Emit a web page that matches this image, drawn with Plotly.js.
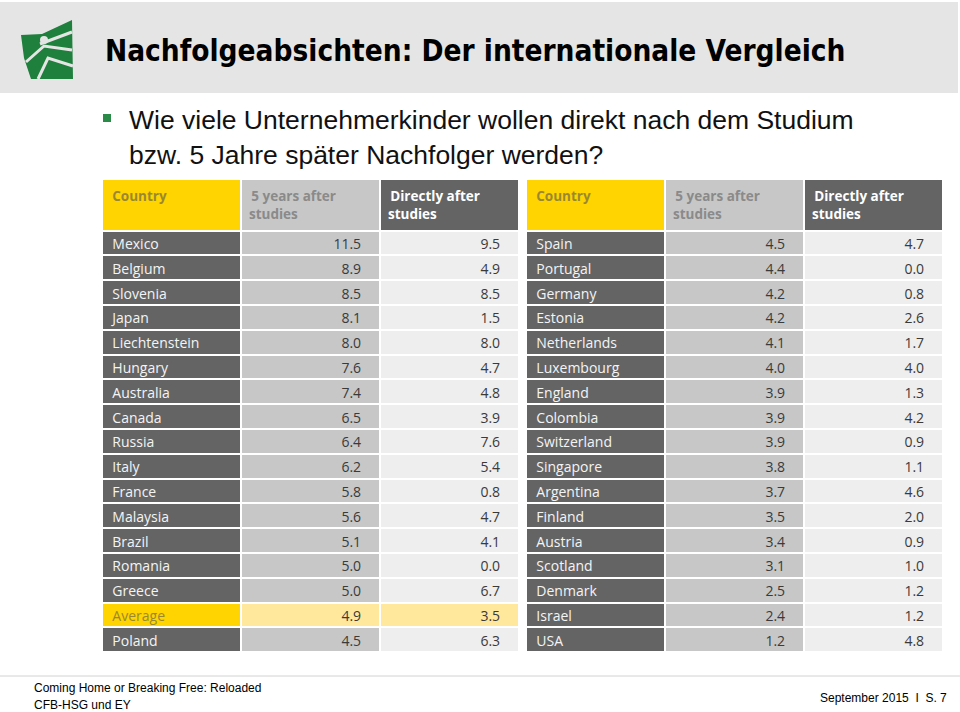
<!DOCTYPE html>
<html>
<head>
<meta charset="utf-8">
<script src="https://cdn.plot.ly/plotly-3.0.1.min.js"></script>
<style>html,body{margin:0;padding:0;background:#fff;}#chart{width:960px;height:712px;}</style>
</head>
<body>
<div id="chart"></div>
<script>
// ---- data ----
const headerLabels = ['Country', '5 years after<br>studies', 'Directly after<br>studies'];

const leftCountries = ['Mexico','Belgium','Slovenia','Japan','Liechtenstein','Hungary','Australia','Canada','Russia','Italy','France','Malaysia','Brazil','Romania','Greece','Average','Poland'];
const leftFiveYears = [11.5, 8.9, 8.5, 8.1, 8.0, 7.6, 7.4, 6.5, 6.4, 6.2, 5.8, 5.6, 5.1, 5.0, 5.0, 4.9, 4.5];
const leftDirectly  = [9.5, 4.9, 8.5, 1.5, 8.0, 4.7, 4.8, 3.9, 7.6, 5.4, 0.8, 4.7, 4.1, 0.0, 6.7, 3.5, 6.3];

const rightCountries = ['Spain','Portugal','Germany','Estonia','Netherlands','Luxembourg','England','Colombia','Switzerland','Singapore','Argentina','Finland','Austria','Scotland','Denmark','Israel','USA'];
const rightFiveYears = [4.5, 4.4, 4.2, 4.2, 4.1, 4.0, 3.9, 3.9, 3.9, 3.8, 3.7, 3.5, 3.4, 3.1, 2.5, 2.4, 1.2];
const rightDirectly  = [4.7, 0.0, 0.8, 2.6, 1.7, 4.0, 1.3, 4.2, 0.9, 1.1, 4.6, 2.0, 0.9, 1.0, 1.2, 1.2, 4.8];

const highlightLabel = 'Average';

// ---- helpers ----
const W = 960, H = 712;
const px = x => x / W;
const py = y => 1 - y / H;

const C = {
  yellow: '#ffd400', yellowLight: '#ffe89c', yellowText: '#9a8830',
  dark: '#646464', mid: '#c7c7c7', light: '#eeeeee',
  midText: '#8a8a8a', valText: '#3a3a3a'
};

function makeTable(countries, five, direct, x0, x1) {
  const isH = countries.map(c => c === highlightLabel);
  return {
    type: 'table',
    domain: {x: [px(x0), px(x1)], y: [py(654), py(179)]},
    columnwidth: [1, 1, 1],
    header: {
      values: headerLabels.map(h => '<b>' + h + '</b>'),
      align: 'left',
      height: 48,
      prefix: '\u2009',
      fill: {color: [C.yellow, C.mid, C.dark]},
      font: {family: 'Open Sans', size: 13.5, color: [C.yellowText, C.midText, '#ffffff']},
      line: {color: '#ffffff', width: 2}
    },
    cells: {
      values: [countries, five, direct],
      format: ['', '.1f', '.1f'],
      prefix: ['\u2009', '', ''],
      suffix: ['', '\u00a0\u00a0\u00a0', '\u00a0\u00a0\u00a0'],
      align: ['left', 'right', 'right'],
      height: 24.8,
      fill: {color: [
        isH.map(h => h ? C.yellow : C.dark),
        isH.map(h => h ? C.yellowLight : C.mid),
        isH.map(h => h ? C.yellowLight : C.light)
      ]},
      font: {family: 'Open Sans', size: 14, color: [
        isH.map(h => h ? C.yellowText : '#f4f4f4'),
        isH.map(h => C.valText),
        isH.map(h => C.valText)
      ]},
      line: {color: '#ffffff', width: 2}
    }
  };
}

const data = [
  makeTable(leftCountries, leftFiveYears, leftDirectly, 102, 520),
  makeTable(rightCountries, rightFiveYears, rightDirectly, 526, 944)
];

const green = '#1f7f3c';
const shapes = [
  // header band
  {type: 'rect', xref: 'paper', yref: 'paper', x0: px(0), x1: px(958), y0: py(93), y1: py(2), fillcolor: '#e5e5e5', line: {width: 0}, layer: 'below'},
  // logo
  {type: 'path', xref: 'paper', yref: 'paper', fillcolor: green, line: {width: 0},
   path: 'M' + px(21) + ',' + py(35) + ' L' + px(42) + ',' + py(34) + ' L' + px(72) + ',' + py(20) + ' L' + px(73) + ',' + py(79) + ' L' + px(31) + ',' + py(79) + ' L' + px(24) + ',' + py(58) + ' Z'},
  {type: 'path', xref: 'paper', yref: 'paper', line: {color: '#e5e5e5', width: 3},
   path: 'M' + px(40) + ',' + py(44) + ' L' + px(72) + ',' + py(32)},
  {type: 'path', xref: 'paper', yref: 'paper', line: {color: '#e5e5e5', width: 3},
   path: 'M' + px(26) + ',' + py(62) + ' L' + px(44) + ',' + py(46) + ' L' + px(72) + ',' + py(50)},
  {type: 'path', xref: 'paper', yref: 'paper', line: {color: '#e5e5e5', width: 3},
   path: 'M' + px(38) + ',' + py(79) + ' L' + px(48) + ',' + py(58) + ' L' + px(73) + ',' + py(66)},
  {type: 'circle', xref: 'paper', yref: 'paper', x0: px(40), x1: px(48), y0: py(44), y1: py(36), fillcolor: '#e5e5e5', line: {width: 0}},
  // bullet
  {type: 'rect', xref: 'paper', yref: 'paper', x0: px(103), x1: px(111), y0: py(122), y1: py(114), fillcolor: '#2a8a48', line: {width: 0}},
  // footer rule
  {type: 'line', xref: 'paper', yref: 'paper', x0: 0, x1: 1, y0: py(676), y1: py(676), line: {color: '#d2d2d2', width: 1}}
];

const annotations = [
  {text: '<b>Nachfolgeabsichten: Der internationale Vergleich</b>', x: px(103), y: py(51), xanchor: 'left', yanchor: 'middle',
   font: {family: 'DejaVu Sans Condensed', size: 29.5, color: '#000'}},
  {text: 'Wie viele Unternehmerkinder wollen direkt nach dem Studium', x: px(127), y: py(120), xanchor: 'left', yanchor: 'middle',
   font: {family: 'Liberation Sans', size: 26.5, color: '#111'}},
  {text: 'bzw. 5 Jahre später Nachfolger werden?', x: px(127), y: py(155), xanchor: 'left', yanchor: 'middle',
   font: {family: 'Liberation Sans', size: 26.5, color: '#111'}},
  {text: 'Coming Home or Breaking Free: Reloaded', x: px(32), y: py(688), xanchor: 'left', yanchor: 'middle',
   font: {family: 'Liberation Sans', size: 12, color: '#000'}},
  {text: 'CFB-HSG und EY', x: px(32), y: py(705), xanchor: 'left', yanchor: 'middle',
   font: {family: 'Liberation Sans', size: 12, color: '#000'}},
  {text: 'September 2015  I  S. 7', x: px(949), y: py(698), xanchor: 'right', yanchor: 'middle',
   font: {family: 'Liberation Sans', size: 12, color: '#000'}}
].map(a => Object.assign({xref: 'paper', yref: 'paper', showarrow: false}, a));

const layout = {
  width: W, height: H,
  margin: {l: 0, r: 0, t: 0, b: 0},
  paper_bgcolor: '#ffffff',
  plot_bgcolor: '#ffffff',
  shapes, annotations,
  showlegend: false
};

Plotly.newPlot('chart', data, layout, {displayModeBar: false, staticPlot: true});
</script>
</body>
</html>
